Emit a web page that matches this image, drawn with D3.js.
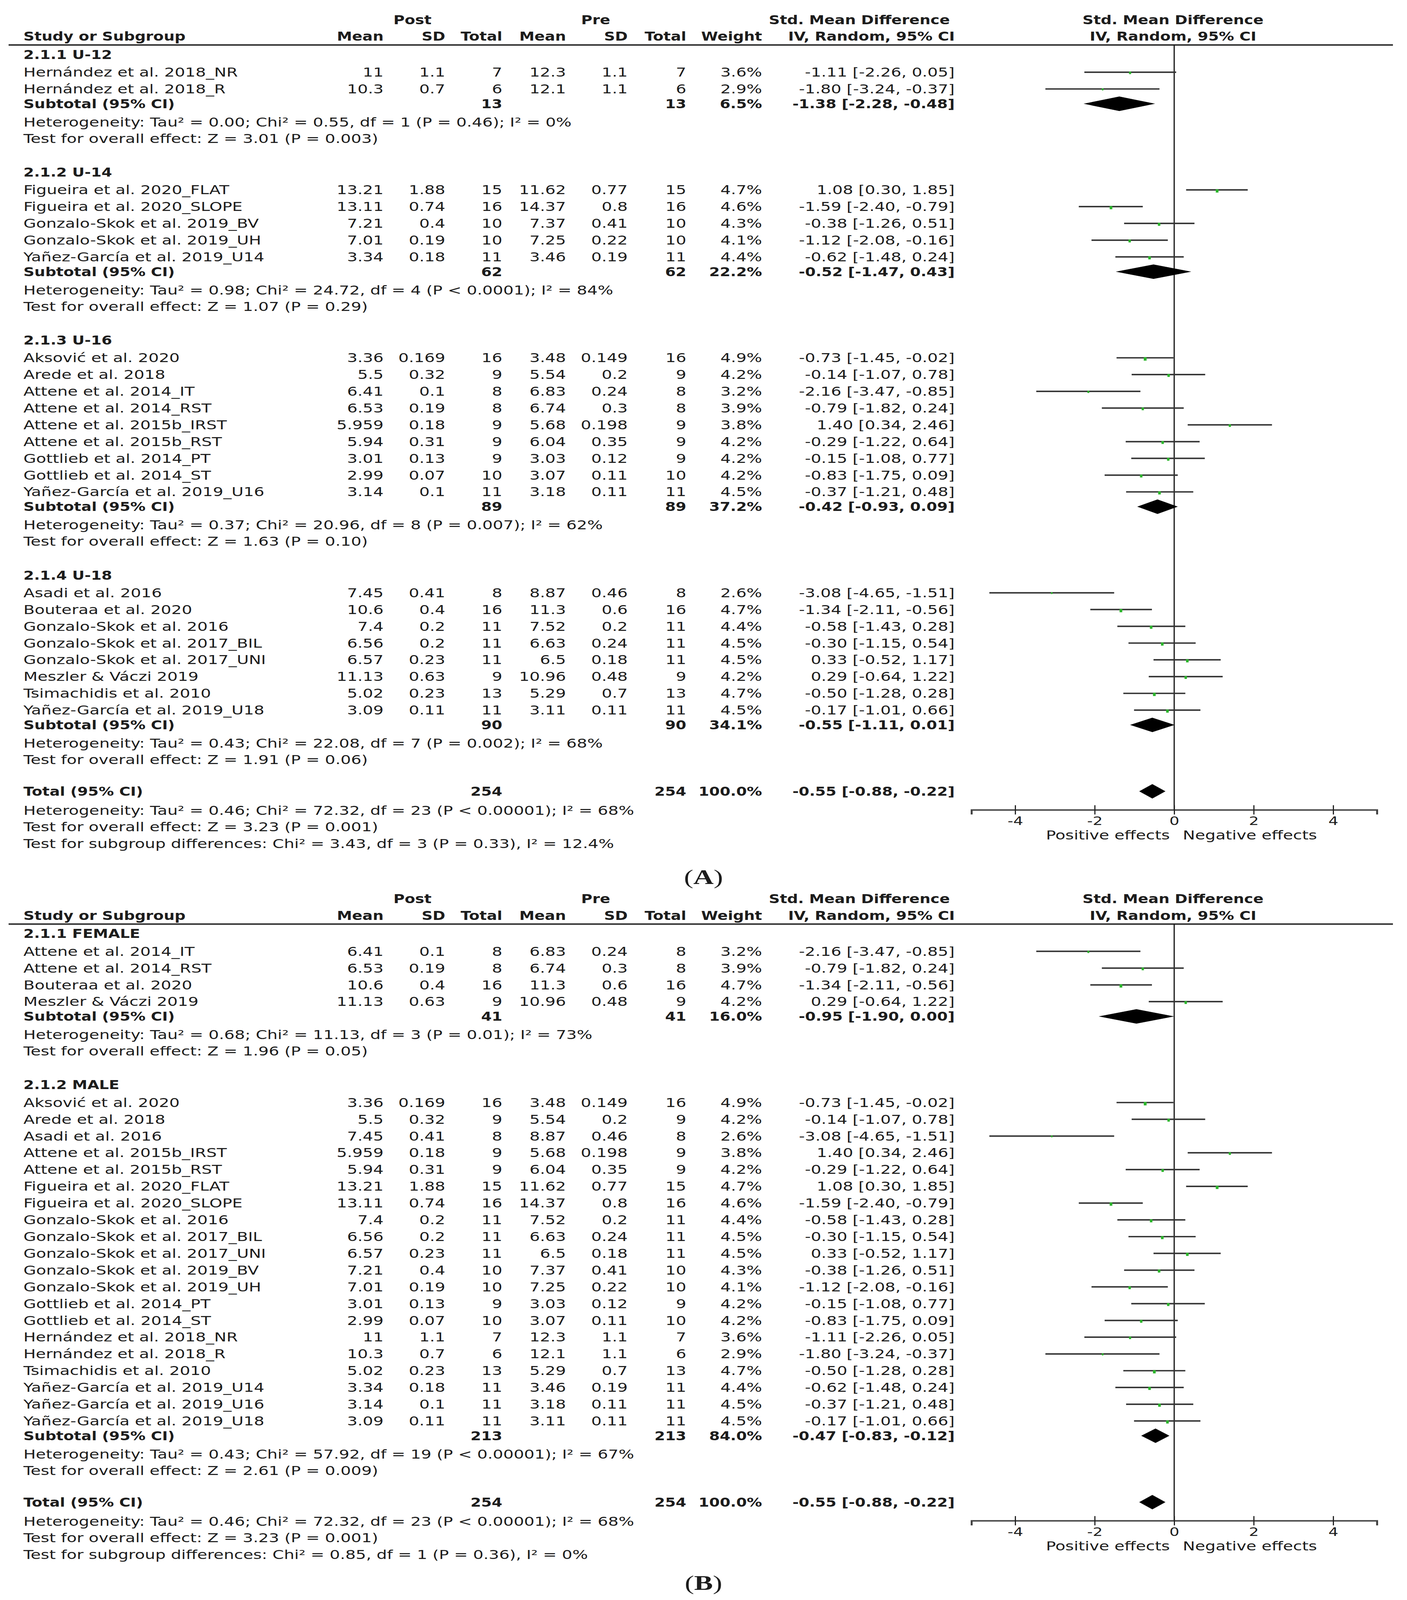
<!DOCTYPE html>
<html><head><meta charset="utf-8">
<script src="https://cdn.jsdelivr.net/npm/d3@7"></script>
<style>
html,body{margin:0;padding:0;background:#fff;overflow:hidden}
svg{display:block;width:100vw;height:100vh}
text{font-family:"DejaVu Sans",sans-serif;fill:#1c1c1c}
</style>
</head><body>
<svg id="c" viewBox="0 0 3602 5518" preserveAspectRatio="none"></svg>
<script>
// ---------- study data ----------
const studyNames = ["Hernández et al. 2018_NR","Hernández et al. 2018_R","Figueira et al. 2020_FLAT","Figueira et al. 2020_SLOPE",
 "Gonzalo-Skok et al. 2019_BV","Gonzalo-Skok et al. 2019_UH","Yañez-García et al. 2019_U14","Aksović et al. 2020",
 "Arede et al. 2018","Attene et al. 2014_IT","Attene et al. 2014_RST","Attene et al. 2015b_IRST","Attene et al. 2015b_RST",
 "Gottlieb et al. 2014_PT","Gottlieb et al. 2014_ST","Yañez-García et al. 2019_U16","Asadi et al. 2016","Bouteraa et al. 2020",
 "Gonzalo-Skok et al. 2016","Gonzalo-Skok et al. 2017_BIL","Gonzalo-Skok et al. 2017_UNI","Meszler & Váczi 2019",
 "Tsimachidis et al. 2010","Yañez-García et al. 2019_U18"];
const postMean = ["11","10.3","13.21","13.11","7.21","7.01","3.34","3.36","5.5","6.41","6.53","5.959","5.94","3.01","2.99","3.14","7.45","10.6","7.4","6.56","6.57","11.13","5.02","3.09"];
const postSD   = ["1.1","0.7","1.88","0.74","0.4","0.19","0.18","0.169","0.32","0.1","0.19","0.18","0.31","0.13","0.07","0.1","0.41","0.4","0.2","0.2","0.23","0.63","0.23","0.11"];
const postN    = [7,6,15,16,10,10,11,16,9,8,8,9,9,9,10,11,8,16,11,11,11,9,13,11];
const preMean  = ["12.3","12.1","11.62","14.37","7.37","7.25","3.46","3.48","5.54","6.83","6.74","5.68","6.04","3.03","3.07","3.18","8.87","11.3","7.52","6.63","6.5","10.96","5.29","3.11"];
const preSD    = ["1.1","1.1","0.77","0.8","0.41","0.22","0.19","0.149","0.2","0.24","0.3","0.198","0.35","0.12","0.11","0.11","0.46","0.6","0.2","0.24","0.18","0.48","0.7","0.11"];
const preN     = [7,6,15,16,10,10,11,16,9,8,8,9,9,9,10,11,8,16,11,11,11,9,13,11];
const weights  = [3.6,2.9,4.7,4.6,4.3,4.1,4.4,4.9,4.2,3.2,3.9,3.8,4.2,4.2,4.2,4.5,2.6,4.7,4.4,4.5,4.5,4.2,4.7,4.5];
const smd      = [-1.11,-1.80,1.08,-1.59,-0.38,-1.12,-0.62,-0.73,-0.14,-2.16,-0.79,1.40,-0.29,-0.15,-0.83,-0.37,-3.08,-1.34,-0.58,-0.30,0.33,0.29,-0.50,-0.17];
const ciLow    = [-2.26,-3.24,0.30,-2.40,-1.26,-2.08,-1.48,-1.45,-1.07,-3.47,-1.82,0.34,-1.22,-1.08,-1.75,-1.21,-4.65,-2.11,-1.43,-1.15,-0.52,-0.64,-1.28,-1.01];
const ciHigh   = [0.05,-0.37,1.85,-0.79,0.51,-0.16,0.24,-0.02,0.78,-0.85,0.24,2.46,0.64,0.77,0.09,0.48,-1.51,-0.56,0.28,0.54,1.17,1.22,0.28,0.66];

// ---------- panel A (age groups) ----------
const groupLabelsA = ["2.1.1 U-12","2.1.2 U-14","2.1.3 U-16","2.1.4 U-18"];
const groupMembersA = [[0,1],[2,3,4,5,6],[7,8,9,10,11,12,13,14,15],[16,17,18,19,20,21,22,23]];
const subNA = [13,62,89,90];
const subWA = [6.5,22.2,37.2,34.1];
const subSmdA = [-1.38,-0.52,-0.42,-0.55];
const subLoA = [-2.28,-1.47,-0.93,-1.11];
const subHiA = [-0.48,0.43,0.09,0.01];
const tauA = ["0.00","0.98","0.37","0.43"];
const chiA = ["0.55","24.72","20.96","22.08"];
const dfA = [1,4,8,7];
const pHetA = ["P = 0.46","P < 0.0001","P = 0.007","P = 0.002"];
const i2A = ["0%","84%","62%","68%"];
const zA = ["3.01","1.07","1.63","1.91"];
const pzA = ["0.003","0.29","0.10","0.06"];
const subgroupDiffA = "Test for subgroup differences: Chi² = 3.43, df = 3 (P = 0.33), I² = 12.4%";

// ---------- panel B (sex) ----------
const groupLabelsB = ["2.1.1 FEMALE","2.1.2 MALE"];
const groupMembersB = [[9,10,17,21],[7,8,16,11,12,2,3,18,19,20,4,5,13,14,0,1,22,6,15,23]];
const subNB = [41,213];
const subWB = [16.0,84.0];
const subSmdB = [-0.95,-0.47];
const subLoB = [-1.90,-0.83];
const subHiB = [0.00,-0.12];
const tauB = ["0.68","0.43"];
const chiB = ["11.13","57.92"];
const dfB = [3,19];
const pHetB = ["P = 0.01","P < 0.00001"];
const i2B = ["73%","67%"];
const zB = ["1.96","2.61"];
const pzB = ["0.05","0.009"];
const subgroupDiffB = "Test for subgroup differences: Chi² = 0.85, df = 1 (P = 0.36), I² = 0%";

// ---------- overall ----------
const totalN = [254,254];
const totalW = 100.0;
const totalSmd = [-0.55,-0.88,-0.22];
const totalHet = "Heterogeneity: Tau² = 0.46; Chi² = 72.32, df = 23 (P < 0.00001); I² = 68%";
const totalTest = "Test for overall effect: Z = 3.23 (P = 0.001)";
const axisTicks = [-4,-2,0,2,4];
const axisLabels = ["Positive effects","Negative effects"];

// ---------- drawing ----------
const svg = d3.select('#c');
svg.append('rect').attr('width',3602).attr('height',5518).attr('fill','#fff');
const FS = 42;
const col = {name:60,pMean:982,pSD:1140,pN:1286,qMean:1449,qSD:1607,qN:1757,wt:1951,ci:2444};
const x = d3.scaleLinear().domain([-5.1,5.1]).range([2487,3525]);
const f2 = v => v.toFixed(2);
const ciStr = (m,l,h) => `${f2(m)} [${f2(l)}, ${f2(h)}]`;

function txt(g,xx,yy,s,opt={}){
  const anchor = opt.anchor||'start', bold=!!opt.bold, size=opt.size||FS;
  return g.append('text')
    .attr('transform',`translate(${xx},${yy})`+(bold?' scale(0.93,1)':''))
    .attr('text-anchor',anchor).attr('dy','0.36em')
    .attr('font-size',size).attr('font-weight',bold?'bold':'normal')
    .text(s);
}

function diamond(g,y,m,l,h){
  g.append('path')
   .attr('d',`M${x(l)},${y}L${x(m)},${y-25}L${x(h)},${y}L${x(m)},${y+25}Z`)
   .attr('fill','#000');
}

function drawPanel(lineY, labels, members, subN, subW, subS, subL, subH, tau, chi, df, pHet, i2, z, pz, subDiff, tag, tagY){
  const g = svg.append('g');
  const h1 = lineY-87, h2 = lineY-30;
  txt(g,1056,h1,'Post',{anchor:'middle',bold:true});
  txt(g,1525,h1,'Pre',{anchor:'middle',bold:true});
  txt(g,2200,h1,'Std. Mean Difference',{anchor:'middle',bold:true});
  txt(g,3003,h1,'Std. Mean Difference',{anchor:'middle',bold:true});
  txt(g,col.name,h2,'Study or Subgroup',{bold:true});
  [['Mean',col.pMean],['SD',col.pSD],['Total',col.pN],['Mean',col.qMean],['SD',col.qSD],['Total',col.qN],['Weight',col.wt]]
    .forEach(([s,xx])=>txt(g,xx,h2,s,{anchor:'end',bold:true}));
  txt(g,2231,h2,'IV, Random, 95% CI',{anchor:'middle',bold:true});
  txt(g,3003,h2,'IV, Random, 95% CI',{anchor:'middle',bold:true});
  g.append('line').attr('x1',22).attr('x2',3566).attr('y1',lineY).attr('y2',lineY)
    .attr('stroke','#2a2a2a').attr('stroke-width',5);

  const plot = svg.append('g');
  const P = 57.8;
  let first = lineY + 94;
  let testY = 0;
  labels.forEach((lab,gi)=>{
    txt(g,col.name,first-61,lab,{bold:true});
    let y = first;
    members[gi].forEach((si,k)=>{
      y = first + k*P;
      txt(g,col.name,y,studyNames[si]);
      txt(g,col.pMean,y,postMean[si],{anchor:'end'});
      txt(g,col.pSD,y,postSD[si],{anchor:'end'});
      txt(g,col.pN,y,String(postN[si]),{anchor:'end'});
      txt(g,col.qMean,y,preMean[si],{anchor:'end'});
      txt(g,col.qSD,y,preSD[si],{anchor:'end'});
      txt(g,col.qN,y,String(preN[si]),{anchor:'end'});
      txt(g,col.wt,y,weights[si].toFixed(1)+'%',{anchor:'end'});
      txt(g,col.ci,y,ciStr(smd[si],ciLow[si],ciHigh[si]),{anchor:'end'});
      plot.append('line').attr('x1',x(ciLow[si])).attr('x2',x(ciHigh[si])).attr('y1',y).attr('y2',y)
        .attr('stroke','#333').attr('stroke-width',5);
      const w = 1.5*weights[si];
      plot.append('rect').attr('x',x(smd[si])-w/2).attr('y',y-2).attr('width',w).attr('height',w*1.6)
        .attr('fill','#2cb52c');
    });
    const sy = y + 51;
    txt(g,col.name,sy,'Subtotal (95% CI)',{bold:true});
    txt(g,col.pN,sy,String(subN[gi]),{anchor:'end',bold:true});
    txt(g,col.qN,sy,String(subN[gi]),{anchor:'end',bold:true});
    txt(g,col.wt,sy,subW[gi].toFixed(1)+'%',{anchor:'end',bold:true});
    txt(g,col.ci,sy,ciStr(subS[gi],subL[gi],subH[gi]),{anchor:'end',bold:true});
    diamond(plot,sy,subS[gi],subL[gi],subH[gi]);
    const hy = sy + 63;
    txt(g,col.name,hy,`Heterogeneity: Tau² = ${tau[gi]}; Chi² = ${chi[gi]}, df = ${df[gi]} (${pHet[gi]}); I² = ${i2[gi]}`);
    testY = hy + 57;
    txt(g,col.name,testY,`Test for overall effect: Z = ${z[gi]} (P = ${pz[gi]})`);
    first = testY + 177;
  });
  const ty = testY + 109;
  txt(g,col.name,ty,'Total (95% CI)',{bold:true});
  txt(g,col.pN,ty,String(totalN[0]),{anchor:'end',bold:true});
  txt(g,col.qN,ty,String(totalN[1]),{anchor:'end',bold:true});
  txt(g,col.wt,ty,totalW.toFixed(1)+'%',{anchor:'end',bold:true});
  txt(g,col.ci,ty,ciStr(totalSmd[0],totalSmd[1],totalSmd[2]),{anchor:'end',bold:true});
  diamond(plot,ty,totalSmd[0],totalSmd[1],totalSmd[2]);
  const hy2 = ty + 66;
  txt(g,col.name,hy2,totalHet);
  txt(g,col.name,hy2+57,totalTest);
  txt(g,col.name,hy2+115,subDiff);

  const axisY = ty + 64;
  plot.insert('line',':first-child').attr('x1',x(0)).attr('x2',x(0)).attr('y1',lineY).attr('y2',axisY)
    .attr('stroke','#111').attr('stroke-width',3);
  const ax = svg.append('g').attr('transform',`translate(0,${axisY})`)
    .call(d3.axisBottom(x).tickValues(axisTicks).tickSizeOuter(0).tickSize(16).tickFormat(d=>String(d)));
  ax.select('.domain').attr('stroke','#444').attr('stroke-width',5);
  ax.selectAll('.tick line').attr('y1',-16).attr('y2',16).attr('stroke','#222').attr('stroke-width',3);
  ax.selectAll('.tick text').attr('y',38).attr('dy','0.36em').attr('font-size',40)
    .attr('font-family','"DejaVu Sans",sans-serif').attr('fill','#1c1c1c');
  txt(g,2995,axisY+87,axisLabels[0],{anchor:'end'});
  txt(g,3028,axisY+87,axisLabels[1]);

  const t = svg.append('text').attr('x',1801).attr('y',tagY).attr('dy','0.33em').attr('text-anchor','middle')
    .attr('font-size',72).style('font-family','"Liberation Serif","DejaVu Serif",serif');
  t.append('tspan').text('(');
  t.append('tspan').attr('font-weight','bold').text(tag);
  t.append('tspan').text(')');
}

drawPanel(155, groupLabelsA, groupMembersA, subNA, subWA, subSmdA, subLoA, subHiA, tauA, chiA, dfA, pHetA, i2A, zA, pzA, subgroupDiffA, 'A', 3025);
drawPanel(3187, groupLabelsB, groupMembersB, subNB, subWB, subSmdB, subLoB, subHiB, tauB, chiB, dfB, pHetB, i2B, zB, pzB, subgroupDiffB, 'B', 5459);
</script>
</body></html>
